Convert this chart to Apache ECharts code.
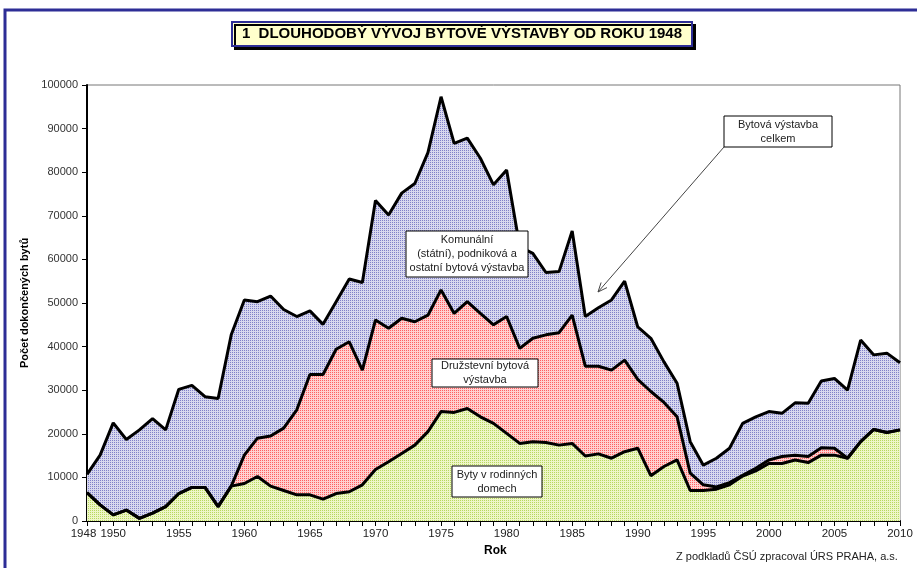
<!DOCTYPE html>
<html>
<head>
<meta charset="utf-8">
<script src="https://cdn.jsdelivr.net/npm/echarts@6/dist/echarts.min.js"></script>
<style>
html, body { margin: 0; padding: 0; background: #fff; }
#chart { width: 917px; height: 568px; }
</style>
</head>
<body>
<div id="chart"></div>
<script>
// roky 1948 - 2010
var years = [];
for (var y = 1948; y <= 2010; y++) years.push(String(y));

var labelYears = ["1948", "1950", "1955", "1960", "1965", "1970", "1975", "1980", "1985", "1990", "1995", "2000", "2005", "2010"];

// byty v rodinnych domech
var rodinne = [
	6500, 3700, 1400, 2500, 600, 1800, 3300, 6300, 7700, 7700,
	3300, 8000, 8600, 10200, 8000, 7000, 6000, 6000, 5000, 6300,
	6700, 8300, 11800, 13600, 15500, 17400, 20500, 25100, 24900, 25800,
	23900, 22400, 20100, 17800, 18200, 18000, 17400, 17800, 14900, 15400,
	14400, 15900, 16700, 10400, 12500, 14000, 7000, 7000, 7300, 8300,
	10300, 11500, 13200, 13200, 14000, 13400, 15100, 15100, 14400, 18200,
	21000, 20300, 20900
];

// druzstevni bytova vystavba
var druzstevni = [
	0, 0, 0, 0, 0, 0, 0, 0, 0, 0,
	0, 0, 6500, 8800, 11500, 14300, 19500, 27600, 28600, 33100,
	34400, 26300, 34300, 30600, 31000, 28300, 26700, 27900, 22700, 24500,
	23700, 22600, 26800, 21800, 23700, 24700, 25800, 29400, 20600, 20100,
	20200, 21000, 15800, 19300, 14700, 9900, 4000, 1300, 500, 500,
	200, 600, 800, 1600, 1100, 1400, 1700, 1600, 0, 0,
	0, 0, 0
];

// komunalni, podnikova a ostatni
var komunalni = [
	4200, 11400, 21100, 16200, 20300, 21700, 17600, 23900, 23400, 20800,
	24800, 34700, 35600, 31300, 32100, 27200, 21400, 14600, 11500, 10900,
	14400, 20100, 27400, 26000, 28700, 31700, 37300, 44300, 39000, 37500,
	35600, 32100, 33600, 23300, 19500, 14300, 14000, 19300, 11400, 13400,
	16100, 18100, 12000, 12200, 9300, 7700, 7200, 4500, 6600, 7900,
	11900, 11800, 11100, 9900, 12000, 12200, 15300, 16000, 15600, 23300,
	17100, 18200, 15400
];

function dots(light, dark) {
	var c = document.createElement("canvas");
	c.width = 2;
	c.height = 2;
	var g = c.getContext("2d");
	g.fillStyle = light;
	g.fillRect(0, 0, 2, 2);
	g.fillStyle = dark;
	g.fillRect(0, 0, 1, 1);
	return { image: c, repeat: "repeat" };
}

var font = "'Liberation Sans', Arial, sans-serif";

function areaSeries(name, data, fill) {
	return {
		name: name,
		type: "line",
		stack: "celkem",
		data: data,
		showSymbol: false,
		lineStyle: { color: "#000", width: 3 },
		areaStyle: { color: fill, opacity: 1 },
		emphasis: { disabled: true }
	};
}

function box(x, y, w, h, lines) {
	return {
		type: "group",
		x: x,
		y: y,
		z: 100,
		children: [
			{ type: "rect", z: 100, shape: { x: 0, y: 0, width: w, height: h }, style: { fill: "#fff", stroke: "#000", lineWidth: 1 } },
			{ type: "text", z: 101, x: w / 2, y: h / 2, style: { text: lines.join("\n"), fill: "#222", font: "11px " + font, align: "center", verticalAlign: "middle", lineHeight: 14 } }
		]
	};
}

// sipka k celkove vystavbe
var ax1 = 724, ay1 = 147, ax2 = 598, ay2 = 292;
var ang = Math.atan2(ay2 - ay1, ax2 - ax1);
function head(d) {
	return [ax2 - 10 * Math.cos(ang + d), ay2 - 10 * Math.sin(ang + d)];
}

var chart = echarts.init(document.getElementById("chart"));
chart.setOption({
	animation: false,
	grid: {
		left: 87,
		right: 17,
		top: 85,
		bottom: 47,
		show: true,
		borderColor: "#777",
		borderWidth: 1
	},
	xAxis: {
		type: "category",
		data: years,
		boundaryGap: false,
		axisLine: { lineStyle: { color: "#000", width: 2 } },
		axisTick: { show: true, interval: 0, length: 5, lineStyle: { color: "#000" } },
		axisLabel: {
			interval: function (i, v) { return labelYears.indexOf(v) >= 0; },
			showMinLabel: true,
			showMaxLabel: true,
			hideOverlap: false,
			color: "#222",
			fontFamily: font,
			fontSize: 11.5,
			margin: 7,
			formatter: function (v) { return v === "1948" ? "{a|" + v + "}" : v; },
			rich: { a: { fontFamily: font, fontSize: 11.5, color: "#222", padding: [0, 7, 0, 0] } }
		},
		splitLine: { show: false }
	},
	yAxis: {
		type: "value",
		min: 0,
		max: 100000,
		interval: 10000,
		name: "Počet dokončených bytů",
		nameLocation: "middle",
		nameGap: 57,
		nameMoveOverlap: false,
		nameTextStyle: { fontFamily: font, fontSize: 11, fontWeight: "bold", color: "#000" },
		axisLine: { show: true, lineStyle: { color: "#000", width: 2 } },
		axisTick: { show: true, length: 5, lineStyle: { color: "#000" } },
		axisLabel: { color: "#333", fontFamily: font, fontSize: 11, margin: 9, formatter: function (v) { return String(v); } },
		splitLine: { show: false }
	},
	series: [
		areaSeries("Byty v rodinných domech", rodinne, dots("#eef6c8", "#b8d860")),
		areaSeries("Družstevní bytová výstavba", druzstevni, dots("#ffd0d0", "#ff6060")),
		areaSeries("Komunální (státní), podniková a ostatní bytová výstavba", komunalni, dots("#d8d8ee", "#8080c8"))
	],
	graphic: [
		{ type: "rect", z: 100, shape: { x: 5, y: 10, width: 960, height: 620 }, style: { fill: null, stroke: "#2d2d96", lineWidth: 3 } },
		{
			type: "group",
			x: 232,
			y: 22,
			z: 100,
			children: [
				{ type: "rect", z: 100, shape: { x: 0, y: 0, width: 460, height: 24 }, style: { fill: "#ffffcc", stroke: "#2d2d96", lineWidth: 2, shadowColor: "#000", shadowOffsetX: 3, shadowOffsetY: 3, shadowBlur: 0 } },
				{ type: "text", z: 101, x: 230, y: 12, style: { text: "1  DLOUHODOBÝ VÝVOJ BYTOVÉ VÝSTAVBY OD ROKU 1948", fill: "#000", font: "bold 15px 'Liberation Sans Narrow', 'Liberation Sans', Arial", align: "center", verticalAlign: "middle" } }
			]
		},
		box(406, 231, 122, 46, ["Komunální", "(státní), podniková a", "ostatní bytová výstavba"]),
		box(432, 359, 106, 28, ["Družstevní bytová", "výstavba"]),
		box(452, 466, 90, 31, ["Byty v rodinných", "domech"]),
		box(724, 116, 108, 31, ["Bytová výstavba", "celkem"]),
		{ type: "line", z: 100, shape: { x1: ax1, y1: ay1, x2: ax2, y2: ay2 }, style: { stroke: "#444", lineWidth: 1 } },
		{ type: "polyline", z: 100, shape: { points: [head(0.4), [ax2, ay2], head(-0.4)] }, style: { stroke: "#444", lineWidth: 1, fill: null } },
		{ type: "text", z: 100, x: 484, y: 545, style: { text: "Rok", fill: "#000", font: "bold 12px " + font } },
		{ type: "text", z: 100, x: 676, y: 551, style: { text: "Z podkladů ČSÚ zpracoval ÚRS PRAHA, a.s.", fill: "#222", font: "11px " + font } }
	]
});
</script>
</body>
</html>
